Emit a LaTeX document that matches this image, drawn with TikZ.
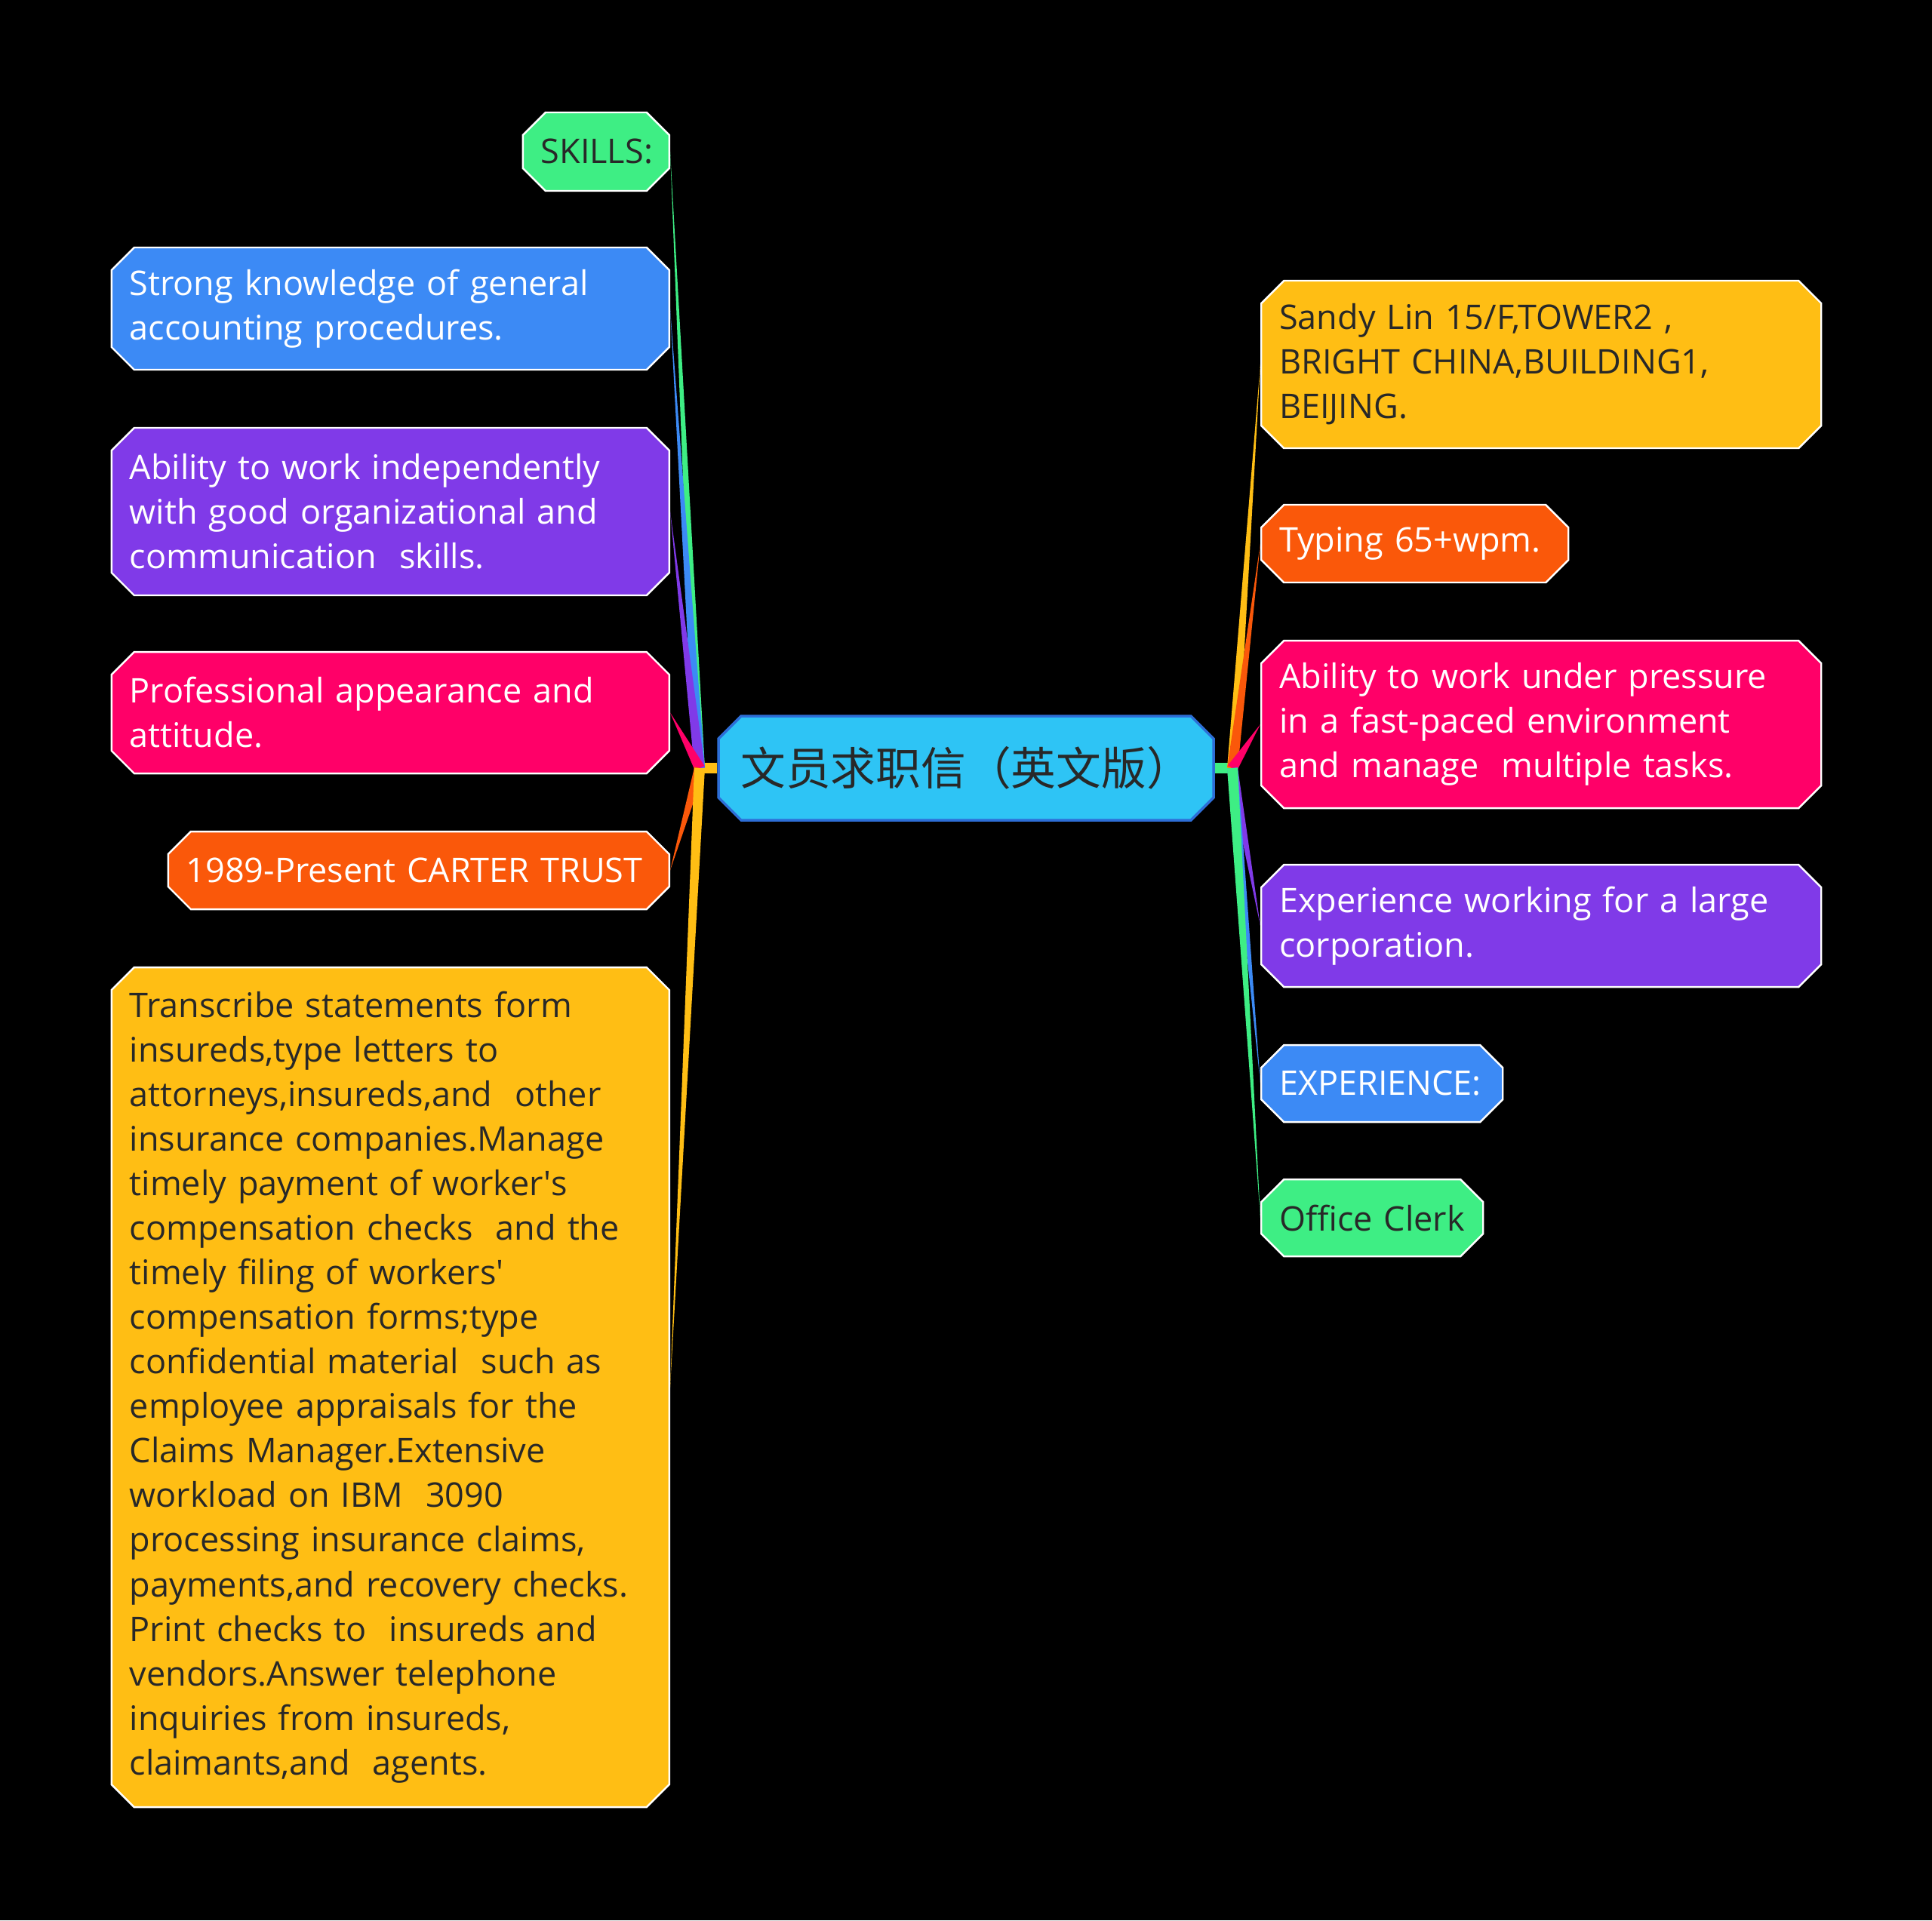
\documentclass[tikz,border=0pt]{standalone}
\usepackage{fontspec}
\setmainfont{Open Sans}
\newfontfamily\cjk{Noto Sans CJK SC}
\usetikzlibrary{shapes.misc}
\usetikzlibrary{calc}

\definecolor{mmgreen}{RGB}{62,238,132}
\definecolor{mmblue}{RGB}{60,138,245}
\definecolor{mmpurple}{RGB}{128,58,232}
\definecolor{mmpink}{RGB}{255,0,104}
\definecolor{mmorange}{RGB}{250,88,10}
\definecolor{mmyellow}{RGB}{255,190,20}
\definecolor{mmcyan}{RGB}{46,196,245}
\definecolor{mmedge}{RGB}{45,110,215}
\definecolor{darktext}{RGB}{40,40,40}

\tikzset{
	topic/.style={chamfered rectangle, chamfered rectangle xsep=0.15cm, chamfered rectangle ysep=0.15cm, draw=white, line width=0.7pt, inner xsep=0.09cm, inner ysep=0.1cm, align=left, font=\fontsize{12.8}{16.8}\selectfont},
	leftitem/.style={topic, anchor=east},
	rightitem/.style={topic, anchor=west},
	light/.style={text=white},
	dark/.style={text=darktext},
	root/.style={chamfered rectangle, chamfered rectangle xsep=0.15cm, chamfered rectangle ysep=0.15cm, fill=mmcyan, draw=mmedge, line width=1pt, text=darktext, font=\cjk\fontsize{17}{20}\selectfont, minimum width=6.56cm, minimum height=1.38cm},
	% tapered branch from a junction to a topic
	wedge/.style={to path={($(\tikztostart)!0.07cm!90:(\tikztotarget)$) -- (\tikztotarget) -- ($(\tikztostart)!0.07cm!-90:(\tikztotarget)$) -- cycle}},
}

\begin{document}
\begin{tikzpicture}
	\fill[black] (0,0) rectangle (25.6,-25.45);
	\useasboundingbox (0,0) rectangle (25.6,-25.45);

	\node (root) [root] at (12.80,-10.18) {文员求职信（英文版）};

	% left side
	\node (skills) [leftitem, fill=mmgreen, dark, text width=1.46cm, minimum height=1.04cm] at (8.88,-2.01) {SKILLS:};
	\node (strong) [leftitem, fill=mmblue, light, text width=6.91cm, minimum height=1.62cm] at (8.88,-4.09) {Strong knowledge of general\\accounting procedures.};
	\node (indep) [leftitem, fill=mmpurple, light, text width=6.91cm, minimum height=2.22cm] at (8.88,-6.78) {Ability to work independently\\with good organizational and\\communication~ skills.};
	\node (prof) [leftitem, fill=mmpink, light, text width=6.91cm, minimum height=1.61cm] at (8.88,-9.445) {Professional appearance and\\attitude.};
	\node (carter) [leftitem, fill=mmorange, light, text width=6.16cm, minimum height=1.03cm] at (8.88,-11.535) {1989-Present CARTER TRUST};
	\node (trans) [leftitem, fill=mmyellow, dark, text width=6.91cm, minimum height=11.13cm] at (8.88,-18.385) {Transcribe statements form\\insureds,type letters to\\attorneys,insureds,and~ other\\insurance companies.Manage\\timely payment of worker\textquotesingle s\\compensation checks~ and the\\timely filing of workers\textquotesingle\\compensation forms;type\\confidential material~ such as\\employee appraisals for the\\Claims Manager.Extensive\\workload on IBM~ 3090\\processing insurance claims,\\payments,and recovery checks.\\Print checks to~ insureds and\\vendors.Answer telephone\\inquiries from insureds,\\claimants,and~ agents.};

	% right side
	\node (sandy) [rightitem, fill=mmyellow, dark, text width=6.94cm, minimum height=2.22cm] at (16.70,-4.83) {Sandy Lin 15/F,TOWER2 ,\\BRIGHT CHINA,BUILDING1,\\BEIJING.};
	\node (typing) [rightitem, fill=mmorange, light, text width=3.59cm, minimum height=1.03cm] at (16.70,-7.205) {Typing 65+wpm.};
	\node (pressure) [rightitem, fill=mmpink, light, text width=6.94cm, minimum height=2.22cm] at (16.70,-9.60) {Ability to work under pressure\\in a fast-paced environment\\and manage~ multiple tasks.};
	\node (corp) [rightitem, fill=mmpurple, light, text width=6.94cm, minimum height=1.62cm] at (16.70,-12.27) {Experience working for a large\\corporation.};
	\node (exper) [rightitem, fill=mmblue, light, text width=2.72cm, minimum height=1.02cm] at (16.70,-14.36) {EXPERIENCE:};
	\node (clerk) [rightitem, fill=mmgreen, dark, text width=2.46cm, minimum height=1.02cm] at (16.70,-16.14) {Office Clerk};

	\coordinate (lj) at (9.27,-10.18);
	\coordinate (rj) at (16.33,-10.18);

	\draw[mmyellow, line width=0.14cm] ($(lj)+(-0.06,0)$) -- (root.west);
	\draw[mmgreen, line width=0.14cm] ($(rj)+(0.07,0)$) -- (root.east);

	\fill[mmgreen] (lj) to[wedge] (skills.east);
	\fill[mmblue] (lj) to[wedge] (strong.east);
	\fill[mmpurple] (lj) to[wedge] (indep.east);
	\fill[mmpink] (lj) to[wedge] (prof.east);
	\fill[mmorange] (lj) to[wedge] (carter.east);
	\fill[mmyellow] (lj) to[wedge] (trans.east);

	\fill[mmyellow] (rj) to[wedge] (sandy.west);
	\fill[mmorange] (rj) to[wedge] (typing.west);
	\fill[mmpink] (rj) to[wedge] (pressure.west);
	\fill[mmpurple] (rj) to[wedge] (corp.west);
	\fill[mmblue] (rj) to[wedge] (exper.west);
	\fill[mmgreen] (rj) to[wedge] (clerk.west);
\end{tikzpicture}
\end{document}
